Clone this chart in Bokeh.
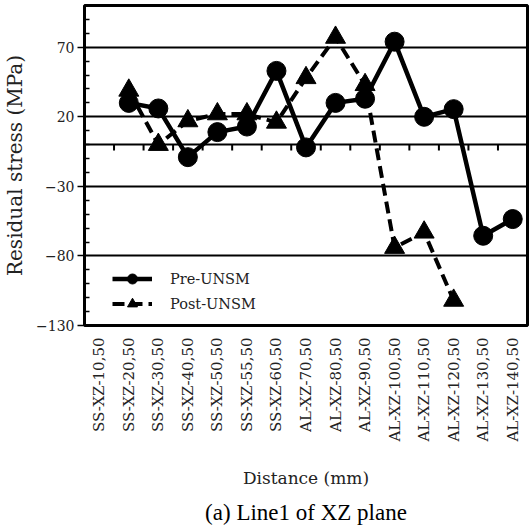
import math
from bokeh.plotting import figure
from bokeh.models import FactorRange, Range1d, FixedTicker, Legend, LegendItem, Title
from bokeh.embed import file_html
from bokeh.resources import INLINE

# ---- data ----
categories = ["SS-XZ-10,50", "SS-XZ-20,50", "SS-XZ-30,50", "SS-XZ-40,50", "SS-XZ-50,50",
              "SS-XZ-55,50", "SS-XZ-60,50", "AL-XZ-70,50", "AL-XZ-80,50", "AL-XZ-90,50",
              "AL-XZ-100,50", "AL-XZ-110,50", "AL-XZ-120,50", "AL-XZ-130,50", "AL-XZ-140,50"]
pre_x = categories[1:15]
pre_y = [30, 26, -9, 9, 13, 53, -2, 30, 33, 74, 20, 25.5, -65.5, -53.5]
post_x = categories[1:13]
post_y = [39, 0, 17, 22, 22, 16, 48, 77, 43, -74, -63, -112]
y_major = [-130, -80, -30, 20, 70]
y_minor = [-120, -110, -100, -90, -70, -60, -50, -40, -20, -10, 0, 10, 30, 40, 50, 60, 80, 90, 100]
grid_values = [-80, -30, 0, 20, 70]

SERIF = "DejaVu Serif"

p = figure(x_range=FactorRange(*categories), y_range=Range1d(-130, 100),
           width=531, height=532, output_backend="svg", toolbar_location=None,
           min_border_left=82, min_border_right=4, min_border_top=5, min_border_bottom=207)

p.outline_line_color = "black"
p.outline_line_width = 3
p.background_fill_color = "white"
p.border_fill_color = "white"

# grid
p.xgrid.grid_line_color = None
p.ygrid.ticker = FixedTicker(ticks=grid_values)
p.ygrid.grid_line_color = "black"
p.ygrid.grid_line_width = 2

# y axis
p.yaxis.ticker = FixedTicker(ticks=y_major, minor_ticks=y_minor)
p.yaxis.axis_line_color = None
p.yaxis.major_tick_in = 0
p.yaxis.major_tick_out = 7
p.yaxis.minor_tick_in = 5
p.yaxis.minor_tick_out = 0
p.yaxis.major_tick_line_color = "black"
p.yaxis.major_tick_line_width = 1.5
p.yaxis.minor_tick_line_color = "black"
p.yaxis.minor_tick_line_width = 1.5
p.yaxis.major_label_text_font = SERIF
p.yaxis.major_label_text_font_size = "14px"
p.yaxis.major_label_text_color = "#222222"
p.yaxis.major_label_standoff = 3
p.yaxis.axis_label = "Residual stress (MPa)"
p.yaxis.axis_label_text_font = SERIF
p.yaxis.axis_label_text_font_size = "20px"
p.yaxis.axis_label_text_font_style = "normal"
p.yaxis.axis_label_text_color = "#222222"
p.yaxis.axis_label_standoff = 6

# x axis
p.xaxis.axis_line_color = None
p.xaxis.major_tick_line_color = None
p.xaxis.minor_tick_line_color = None
p.xaxis.major_label_orientation = math.pi / 2
p.xaxis.major_label_text_font = SERIF
p.xaxis.major_label_text_font_size = "15px"
p.xaxis.major_label_text_color = "#222222"
p.xaxis.major_label_standoff = 6
p.xaxis.axis_label = "Distance (mm)"
p.xaxis.axis_label_text_font = SERIF
p.xaxis.axis_label_text_font_size = "17px"
p.xaxis.axis_label_text_font_style = "normal"
p.xaxis.axis_label_text_color = "#222222"
p.xaxis.axis_label_standoff = 24

# boundary ticks along the zero line
p.segment(x0=[(c, 0.5) for c in categories], y0=0,
          x1=[(c, 0.5) for c in categories], y1=-4.3,
          line_color="black", line_width=2)

# series
post_line = p.line(post_x, post_y, line_color="black", line_width=4, line_dash="12 6")
post_pts = p.scatter(post_x, post_y, marker="triangle", size=20, fill_color="black", line_color="black")
pre_line = p.line(pre_x, pre_y, line_color="black", line_width=4.5)
pre_pts = p.scatter(pre_x, pre_y, marker="circle", size=19, fill_color="black", line_color="black")

legend = Legend(items=[LegendItem(label="Pre-UNSM", renderers=[pre_line, pre_pts]),
                       LegendItem(label="Post-UNSM", renderers=[post_line, post_pts])],
                location=(28, 9), orientation="vertical")
legend.glyph_width = 40
legend.glyph_height = 25
legend.label_height = 25
legend.spacing = 0
legend.padding = 5
legend.label_standoff = 18
legend.label_text_font = SERIF
legend.label_text_font_size = "14.5px"
legend.label_text_color = "#222222"
legend.background_fill_alpha = 0
legend.border_line_color = None
p.add_layout(legend)

p.add_layout(Title(text="(a) Line1 of XZ plane", align="center", text_font="Liberation Serif",
                   text_font_size="23px", text_font_style="normal", text_color="black",
                   standoff=12), "below")

open("out.html", "w").write(file_html(p, INLINE))
